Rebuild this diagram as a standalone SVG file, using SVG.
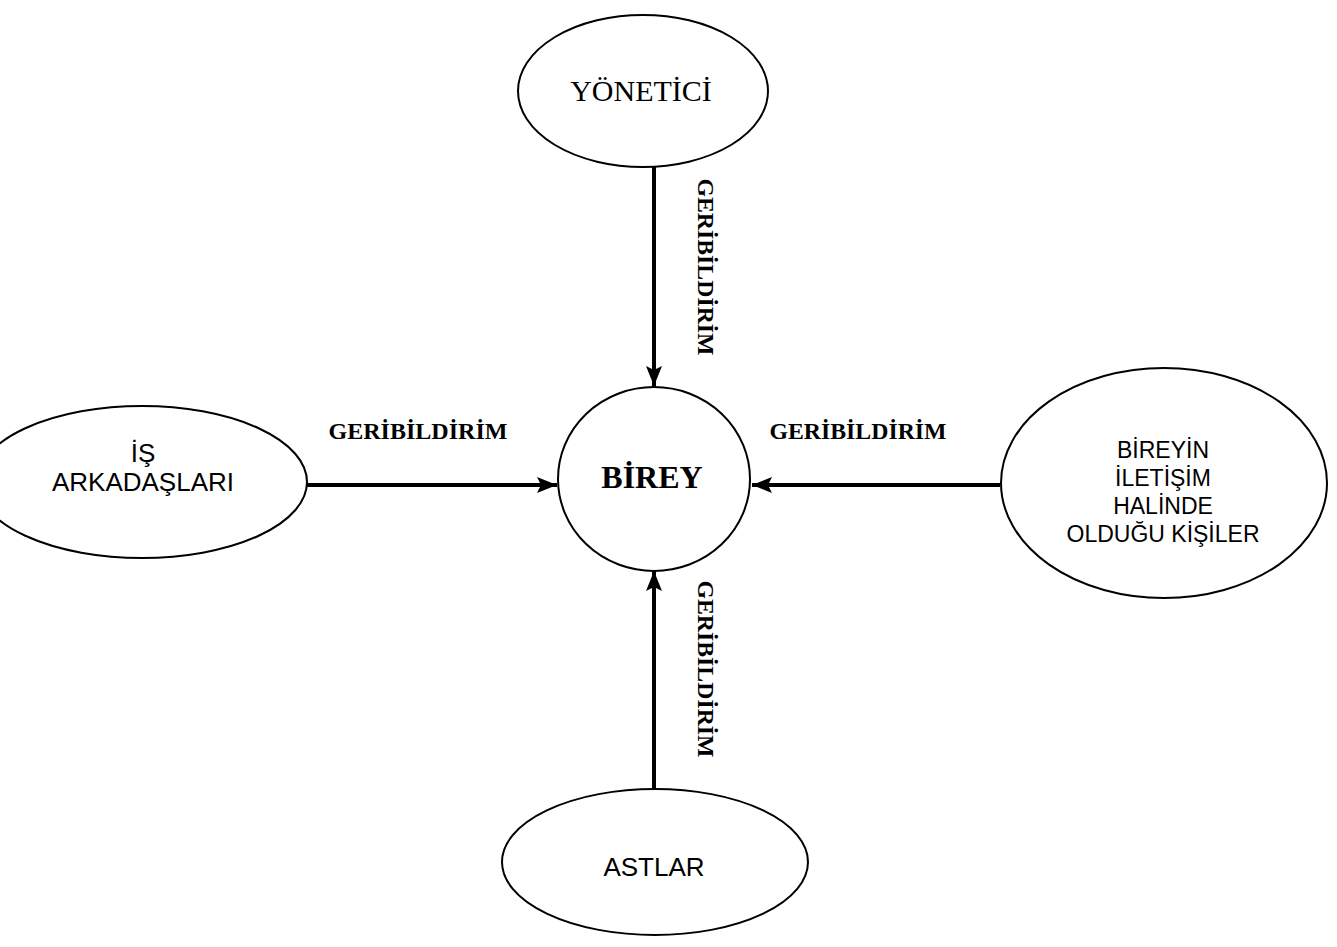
<svg xmlns="http://www.w3.org/2000/svg" width="1337" height="947" viewBox="0 0 1337 947">
<style>
.node{fill:#fff;stroke:#000;stroke-width:2}
.sans{font-family:"Liberation Sans",Arial,sans-serif;font-size:26px;fill:#000;text-anchor:middle}
.sans.sm{font-size:23px}
.serif{font-family:"Liberation Serif","Times New Roman",serif;fill:#000;text-anchor:middle}
.lbl{font-family:"Liberation Serif","Times New Roman",serif;font-weight:bold;font-size:24px;fill:#000;text-anchor:middle}
.conn{stroke:#000;stroke-width:4;fill:none}
</style>
<defs>
<marker id="arr" markerUnits="userSpaceOnUse" markerWidth="22" markerHeight="18" refX="20" refY="9" orient="auto">
<path d="M0,1 L20,9 L0,17 L4,9 Z" fill="#000"/>
</marker>
</defs>
<rect width="1337" height="947" fill="#fff"/>
<g id="connectors">
<line class="conn" x1="654" y1="167" x2="654" y2="386" marker-end="url(#arr)"/>
<line class="conn" x1="307" y1="485" x2="557" y2="485" marker-end="url(#arr)"/>
<line class="conn" x1="1000" y1="485" x2="752" y2="485" marker-end="url(#arr)"/>
<line class="conn" x1="654" y1="790" x2="654" y2="571" marker-end="url(#arr)"/>
<text class="lbl" transform="translate(698,267) rotate(90)" textLength="177" lengthAdjust="spacingAndGlyphs">GERİBİLDİRİM</text>
<text class="lbl" x="418" y="439" textLength="179" lengthAdjust="spacingAndGlyphs">GERİBİLDİRİM</text>
<text class="lbl" x="858" y="439" textLength="177" lengthAdjust="spacingAndGlyphs">GERİBİLDİRİM</text>
<text class="lbl" transform="translate(698,669) rotate(90)" textLength="177" lengthAdjust="spacingAndGlyphs">GERİBİLDİRİM</text>
</g>
<g id="yonetici">
<ellipse class="node" cx="643" cy="91" rx="125" ry="76"/>
<text class="serif" x="641" y="101" font-size="30">YÖNETİCİ</text>
</g>
<g id="birey">
<ellipse class="node" cx="654" cy="479" rx="96" ry="92"/>
<text class="serif" x="652" y="488" font-size="32" font-weight="bold">BİREY</text>
</g>
<g id="is-arkadaslari">
<ellipse class="node" cx="142" cy="482" rx="165" ry="76"/>
<text class="sans" x="143" y="462">İŞ</text>
<text class="sans" x="143" y="491">ARKADAŞLARI</text>
</g>
<g id="bireyin-iletisim">
<ellipse class="node" cx="1164" cy="483" rx="163" ry="115"/>
<text class="sans sm" x="1163" y="458">BİREYİN</text>
<text class="sans sm" x="1163" y="486">İLETİŞİM</text>
<text class="sans sm" x="1163" y="514">HALİNDE</text>
<text class="sans sm" x="1163" y="542">OLDUĞU KİŞİLER</text>
</g>
<g id="astlar">
<ellipse class="node" cx="655" cy="862" rx="153" ry="73"/>
<text class="sans" x="654" y="876">ASTLAR</text>
</g>
</svg>
